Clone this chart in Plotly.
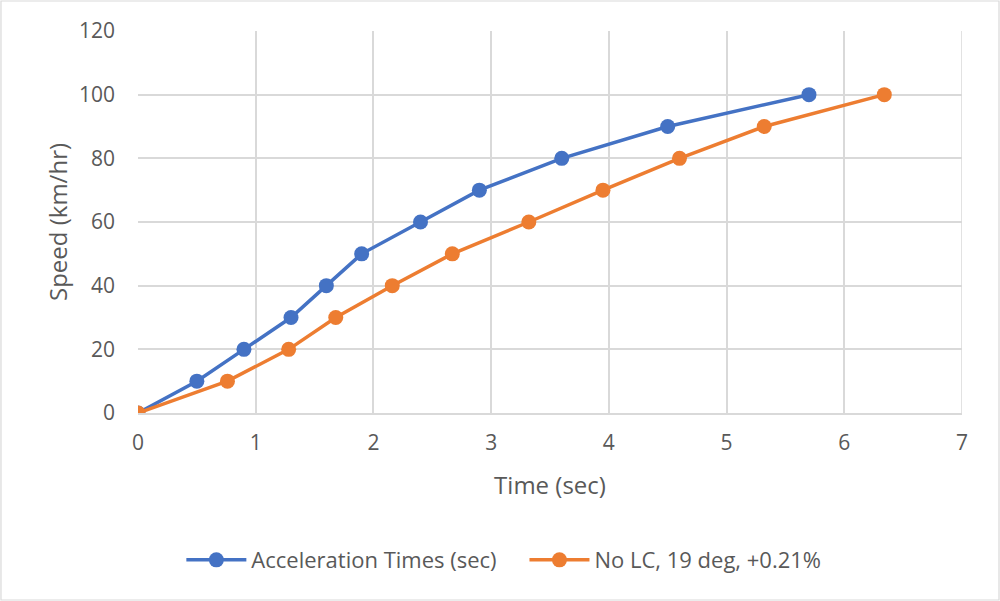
import plotly.graph_objects as go

speeds = [0, 10, 20, 30, 40, 50, 60, 70, 80, 90, 100]
accel_times = [0, 0.5, 0.9, 1.3, 1.6, 1.9, 2.4, 2.9, 3.6, 4.5, 5.7]
nolc_times = [0, 0.76, 1.28, 1.68, 2.16, 2.67, 3.32, 3.95, 4.6, 5.32, 6.34]
series_names = ["Acceleration Times (sec)", "No LC, 19 deg, +0.21%"]

blue = "#4472C4"
orange = "#ED7D31"
font_family = "Open Sans"
grey = "#595959"
grid = "#d9d9d9"
pad = "\u00a0" * 4

fig = go.Figure()
fig.add_trace(go.Scatter(x=accel_times, y=speeds, mode="lines+markers",
                         name=series_names[0] + pad,
                         line=dict(color=blue, width=3.5),
                         marker=dict(color=blue, size=15)))
fig.add_trace(go.Scatter(x=nolc_times, y=speeds, mode="lines+markers",
                         name=series_names[1],
                         line=dict(color=orange, width=3.5),
                         marker=dict(color=orange, size=15)))

fig.update_layout(
    width=1000, height=601,
    margin=dict(l=138, r=38, t=31, b=188),
    paper_bgcolor="white", plot_bgcolor="white",
    font=dict(family=font_family, color=grey, size=20),
    showlegend=True,
    legend=dict(orientation="h", x=0.444, xanchor="center", y=-0.385, yanchor="middle",
                font=dict(family=font_family, size=22, color=grey), itemwidth=60),
    xaxis=dict(range=[0, 7], dtick=1, showgrid=True, gridcolor=grid, gridwidth=1.5,
               zeroline=False, showline=True, linecolor=grid, linewidth=1.5,
               ticks="", tickfont=dict(family=font_family, size=21, color=grey),
               ticklabelstandoff=10,
               title=dict(text="Time (sec)", font=dict(family=font_family, size=24, color=grey), standoff=22)),
    yaxis=dict(range=[0, 120], dtick=20, showgrid=True, gridcolor=grid, gridwidth=1.5,
               zeroline=False, showline=False, ticks="",
               tickfont=dict(family=font_family, size=21, color=grey), ticklabelstandoff=22,
               title=dict(text="Speed (km/hr)", font=dict(family=font_family, size=24, color=grey), standoff=4)),
    shapes=[dict(type="rect", xref="paper", yref="paper", x0=-0.1663, x1=1.0449,
                 y0=-0.4895, y1=1.0785, line=dict(color=grid, width=1.2)),
            dict(type="line", xref="x", yref="paper", x0=7, x1=7, y0=0, y1=1,
                 line=dict(color=grid, width=1.5))],
)

fig.write_html("out.html")
